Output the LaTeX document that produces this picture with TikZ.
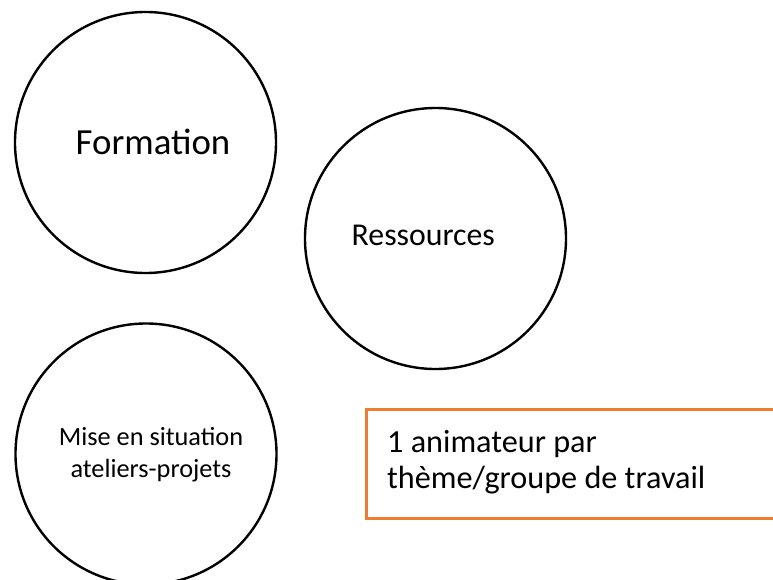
\documentclass[tikz,border=0pt]{standalone}
\usepackage{fontspec}
\setmainfont{Carlito}
\definecolor{accorange}{HTML}{ED7D31}
\tikzset{
  bubble/.style={circle, draw=black, line width=2.4pt, minimum size=261pt, inner sep=0pt},
  label text/.style={inner sep=0pt, anchor=base west, text=black},
  notebox/.style={draw=accorange, line width=3pt}
}
\begin{document}
\begin{tikzpicture}[x=1pt, y=-1pt]
\useasboundingbox (0,0) rectangle (773,580);
\clip (0,0) rectangle (773,580);
% circles
\node[bubble] (formation) at (145.5,142.5) {};
\node[bubble] (ressources) at (435.5,238.5) {};
\node[bubble] (mise) at (146,454) {};
% texts
\node[label text, font=\fontsize{36.8}{40}\selectfont] (tformation) at (75.5,155) {Formation};
\node[label text, font=\fontsize{31.8}{36}\selectfont] (tressources) at (351.5,245) {Ressources};
\node[inner sep=0pt, anchor=base, align=center, font=\fontsize{26.3}{32}\selectfont] (tmise) at (151,477) {Mise en situation\\ateliers-projets};
% box
\draw[notebox] (366,409) rectangle (790,518);
\node[inner sep=0pt, anchor=base west, align=left, font=\fontsize{32.2}{36}\selectfont] (tbox) at (387,488) {1 animateur par\\thème/groupe de travail};
\end{tikzpicture}
\end{document}
